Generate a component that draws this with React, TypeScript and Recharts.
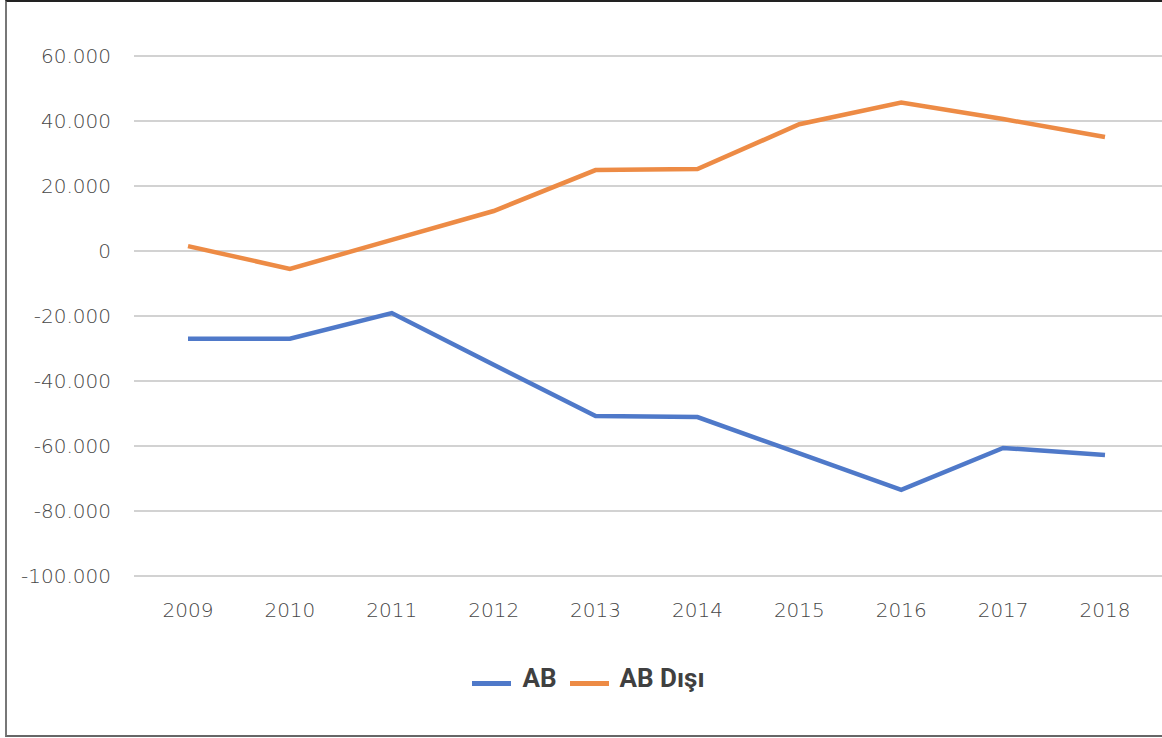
import React from "react";
import { LineChart, Line, XAxis, YAxis, CartesianGrid, Legend } from "recharts";

const YEARS = ["2009", "2010", "2011", "2012", "2013", "2014", "2015", "2016", "2017", "2018"];
const AB = [-27000, -27000, -19100, -35000, -50800, -51100, -62300, -73500, -60600, -62800];
const AB_DISI = [1500, -5500, 3400, 12300, 24900, 25200, 39000, 45700, 40600, 35100];
const Y_TICKS = [-100000, -80000, -60000, -40000, -20000, 0, 20000, 40000, 60000];

const data = YEARS.map((year, i) => ({ year, ab: AB[i], abDisi: AB_DISI[i] }));

const fmt = (v: number) => {
  if (v === 0) return "0";
  const s = Math.abs(v).toString().replace(/\B(?=(\d{3})+(?!\d))/g, ".");
  return (v < 0 ? "-" : "") + s;
};

const tickStyle = { fontFamily: "DejaVu Sans", fontSize: 20, fontWeight: 300, fill: "#474747" };

export default function App() {
  return (
    <div style={{ position: "fixed", left: 0, top: 0, width: 1162, height: 738, background: "#fff" }}>
      <div style={{ position: "absolute", left: 0, top: 0 }}>
        <LineChart width={1162} height={738} data={data} margin={{ top: 56, right: 0, bottom: 102, left: 0 }}>
          <CartesianGrid vertical={false} stroke="#a6a6a6" strokeWidth={1.2} />
          <XAxis
            dataKey="year"
            axisLine={false}
            tickLine={false}
            tickSize={0}
            tickMargin={27}
            height={60}
            padding={{ left: 54, right: 57 }}
            tick={tickStyle}
            interval={0}
          />
          <YAxis
            domain={[-100000, 60000]}
            ticks={Y_TICKS}
            tickFormatter={fmt}
            axisLine={false}
            tickLine={false}
            tickSize={0}
            tickMargin={23}
            width={134}
            tick={tickStyle}
          />
          <Legend
            layout="horizontal"
            verticalAlign="middle"
            align="center"
            iconType="plainline"
            iconSize={39}
            wrapperStyle={{ top: 663, left: 14, width: 1162 }}
            formatter={(value) => (
              <span
                style={{
                  color: "#404040",
                  fontFamily: "Roboto",
                  fontWeight: 700,
                  fontSize: 26,
                  marginLeft: 7,
                  marginRight: 3,
                }}
              >
                {value}
              </span>
            )}
          />
          <Line
            type="linear"
            dataKey="ab"
            name="AB"
            stroke="#4f79c9"
            strokeWidth={4.5}
            dot={false}
            isAnimationActive={false}
          />
          <Line
            type="linear"
            dataKey="abDisi"
            name="AB Dışı"
            stroke="#ed8b45"
            strokeWidth={4.5}
            dot={false}
            isAnimationActive={false}
          />
        </LineChart>
      </div>
      {/* frame box, open on the right */}
      <div
        style={{
          position: "absolute",
          left: 5,
          top: 0,
          width: 1157,
          height: 737,
          boxSizing: "border-box",
          borderTop: "2px solid #222",
          borderLeft: "2px solid #777",
          borderBottom: "2px solid #666",
          pointerEvents: "none",
        }}
      />
    </div>
  );
}
